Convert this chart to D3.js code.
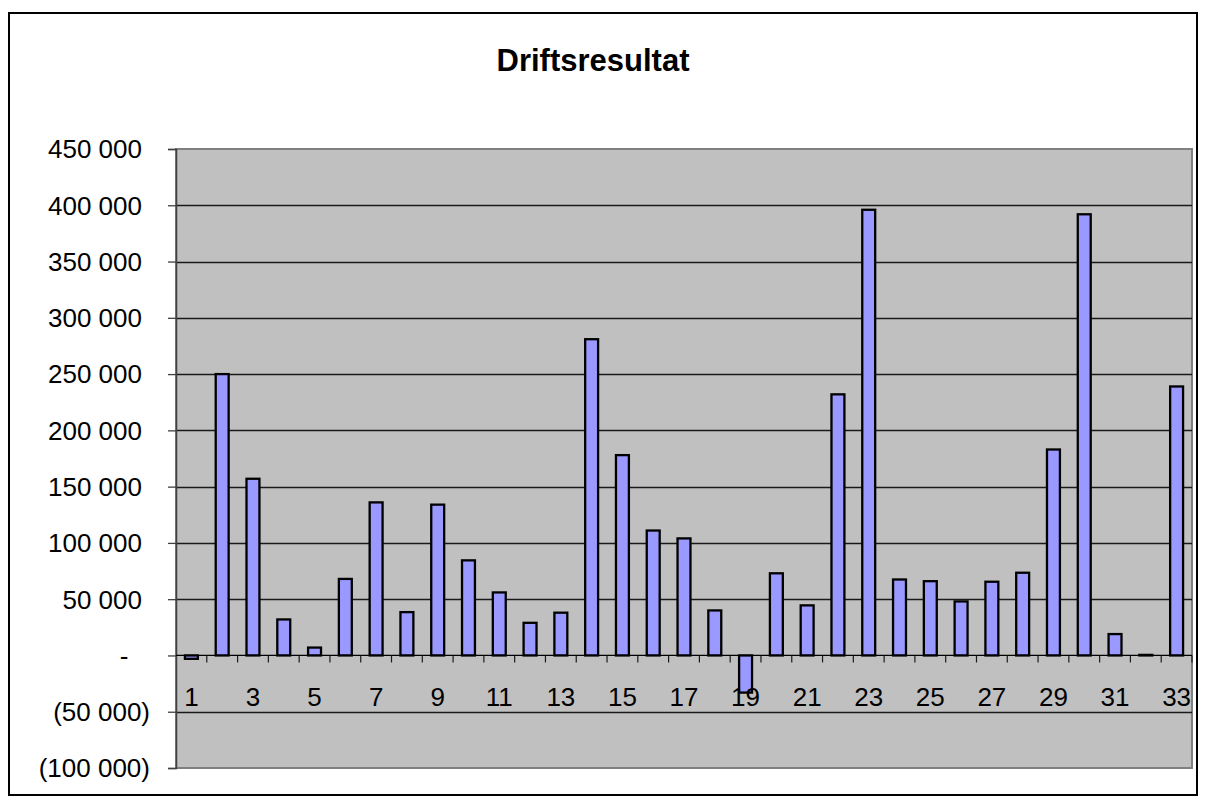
<!DOCTYPE html>
<html>
<head>
<meta charset="utf-8">
<script src="https://cdn.jsdelivr.net/npm/d3@7"></script>
<style>
  body { margin: 0; background: #fff; }
  text { font-family: "Liberation Sans", Arial, sans-serif; fill: #000; }
</style>
</head>
<body>
<div id="chart"></div>
<script>
// Driftsresultat per enhet
var categories = ["1","2","3","4","5","6","7","8","9","10","11","12","13","14","15","16","17",
                  "18","19","20","21","22","23","24","25","26","27","28","29","30","31","32","33"];
var values = [-3000, 250000, 157000, 32000, 7000, 68000, 136000, 38500, 134000, 84500, 56000,
              29000, 38000, 281000, 178000, 111000, 104000, 40000, -33000, 73000, 44500, 232000,
              396000, 67500, 66000, 48000, 65500, 73500, 183000, 392000, 19000, 500, 239000];
var yTicks = [450000, 400000, 350000, 300000, 250000, 200000, 150000, 100000, 50000, 0, -50000, -100000];
var xTickLabels = ["1","3","5","7","9","11","13","15","17","19","21","23","25","27","29","31","33"];
var title = "Driftsresultat";

var W = 1206, H = 808;
var plot = {left: 176, right: 1192, top: 149, bottom: 768};

var svg = d3.select("#chart").append("svg")
    .attr("width", W)
    .attr("height", H);

// outer frame
svg.append("rect")
    .attr("x", 9).attr("y", 13)
    .attr("width", 1188).attr("height", 782)
    .style("fill", "#fff")
    .style("stroke", "#000")
    .style("stroke-width", 2);

svg.append("text")
    .attr("x", 593).attr("y", 71)
    .attr("text-anchor", "middle")
    .style("font-size", "31px")
    .style("font-weight", "bold")
    .text(title);

var y = d3.scaleLinear()
    .domain([-100000, 450000])
    .range([plot.bottom, plot.top]);

var x = d3.scaleBand()
    .domain(categories)
    .range([plot.left, plot.right])
    .paddingInner(0.58)
    .paddingOuter(0.29);

var step = x.step();

// plot area
svg.append("rect")
    .attr("x", plot.left).attr("y", plot.top)
    .attr("width", plot.right - plot.left)
    .attr("height", plot.bottom - plot.top)
    .style("fill", "#c0c0c0")
    .style("stroke", "#808080")
    .style("stroke-width", 2);

// gridlines
svg.append("g").selectAll("line")
    .data(yTicks.filter(function(d){ return d != 450000 && d != -100000 && d != 0 }))
    .enter().append("line")
    .attr("x1", plot.left).attr("x2", plot.right)
    .attr("y1", function(d){ return Math.round(y(d)) + 0.5 })
    .attr("y2", function(d){ return Math.round(y(d)) + 0.5 })
    .style("stroke", "#1a1a1a")
    .style("stroke-width", 1.3);

// y axis
var yAxis = d3.axisLeft(y)
    .tickValues(yTicks)
    .tickSize(8)
    .tickFormat("");

var gy = svg.append("g")
    .attr("transform", "translate(" + plot.left + ",0)")
    .call(yAxis);
gy.select(".domain").style("stroke", "#404040").style("stroke-width", 1.5);
gy.selectAll(".tick line").style("stroke", "#404040").style("stroke-width", 1.3);

var fmt = function(d) {
    var s = d3.format(",")(Math.abs(d)).replace(/,/g, " ");
    if (d == 0) return "-";
    return d < 0 ? "(" + s + ")" : s;
};

svg.append("g").selectAll("text")
    .data(yTicks)
    .enter().append("text")
    .attr("x", function(d){ return d == 0 ? 124 : (d < 0 ? 150 : 142) })
    .attr("y", function(d){ return y(d) })
    .attr("dy", "0.36em")
    .attr("text-anchor", function(d){ return d == 0 ? "middle" : "end" })
    .style("font-size", "26px")
    .text(fmt);

// bars
svg.append("g").selectAll("rect")
    .data(values)
    .enter().append("rect")
    .attr("x", function(d,i){ return x(categories[i]) })
    .attr("width", x.bandwidth())
    .attr("y", function(d){ return y(Math.max(0, d)) })
    .attr("height", function(d){ return Math.abs(y(d) - y(0)) })
    .style("fill", "#9999ff")
    .style("stroke", "#000")
    .style("stroke-width", 2.3);

// category axis at zero
var gx = svg.append("g");
gx.append("line")
    .attr("x1", plot.left).attr("x2", plot.right)
    .attr("y1", y(0)).attr("y2", y(0))
    .style("stroke", "#000")
    .style("stroke-width", 1.3);

gx.selectAll("line.tick")
    .data(categories)
    .enter().append("line")
    .attr("class", "tick")
    .attr("x1", function(d){ return x(d) + x.bandwidth()/2 + step/2 })
    .attr("x2", function(d){ return x(d) + x.bandwidth()/2 + step/2 })
    .attr("y1", y(0)).attr("y2", y(0) + 7)
    .style("stroke", "#1a1a1a")
    .style("stroke-width", 1.2);

gx.selectAll("text")
    .data(xTickLabels)
    .enter().append("text")
    .attr("x", function(d){ return x(d) + x.bandwidth()/2 })
    .attr("y", 706)
    .attr("text-anchor", "middle")
    .style("font-size", "26px")
    .text(function(d){ return d });
</script>
</body>
</html>
